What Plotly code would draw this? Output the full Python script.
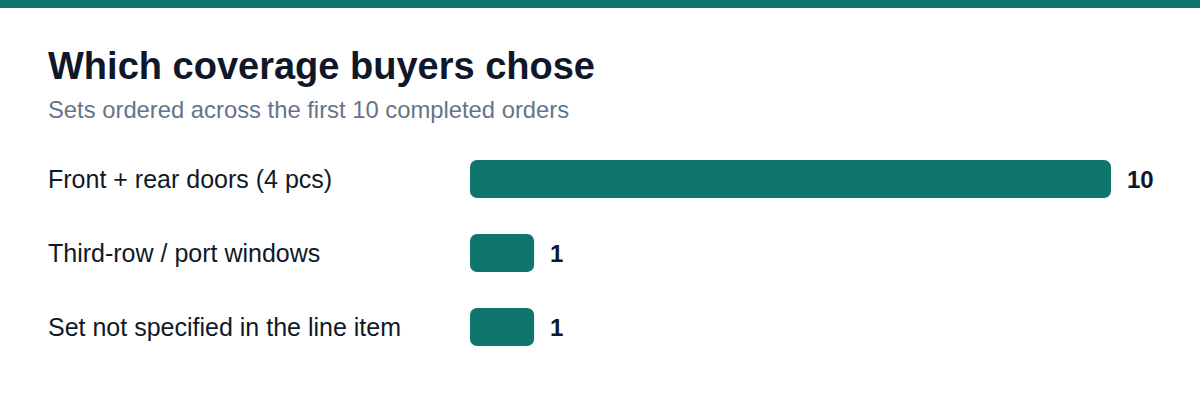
import plotly.graph_objects as go

categories = ["Front + rear doors (4 pcs)", "Third-row / port windows", "Set not specified in the line item"]
orders = [10, 1, 1]

W, H = 1200, 412
L, R, T, B = 470, 89, 142, 48
TEAL = "#0f766e"
FONT = "Liberation Sans, Arial, sans-serif"

plot_w = W - L - R
plot_h = H - T - B


def px_x(px):
    return (px - L) / plot_w


def px_y(py):
    return 1 + (T - py) / plot_h


# plotly only rounds the far end of a bar, so each bar is drawn as two halves
# growing out from its midpoint (one rounds each end) plus a square middle
# piece that hides the seam between them
half = [v / 2 for v in orders]
fig = go.Figure()
for sign in (1, -1):
    fig.add_trace(go.Bar(
        x=[sign * h for h in half], base=half, y=categories, orientation="h",
        marker=dict(color=TEAL, cornerradius=7, line=dict(width=0)),
        hoverinfo="skip"))
fig.add_trace(go.Bar(
    x=half, base=[v / 4 for v in orders], y=categories, orientation="h",
    marker=dict(color=TEAL, cornerradius=0, line=dict(width=0)),
    hoverinfo="skip"))

ann = [
    dict(text="<b>Which coverage buyers chose</b>", x=px_x(46), y=px_y(66),
         font=dict(size=38, color="#0f172a")),
    dict(text="Sets ordered across the first 10 completed orders", x=px_x(46), y=px_y(110),
         font=dict(size=23.8, color="#64748b")),
]
for c in categories:
    ann.append(dict(text=c, x=px_x(46), y=c, yref="y", font=dict(size=25, color="#111827")))
for c, v in zip(categories, orders):
    ann.append(dict(text=f"<b>{v}</b>", x=v, xref="x", y=c, yref="y", xshift=14,
                    font=dict(size=24, color="#0f172a")))
for a in ann:
    a.setdefault("xref", "paper")
    a.setdefault("yref", "paper")
    a.update(xanchor="left", yanchor="middle", showarrow=False)

fig.update_layout(
    width=W, height=H,
    margin=dict(l=L, r=R, t=T, b=B),
    paper_bgcolor="white", plot_bgcolor="white",
    font=dict(family=FONT),
    barmode="overlay",
    bargap=0.486,
    showlegend=False,
    xaxis=dict(range=[0, 10], visible=False, fixedrange=True),
    yaxis=dict(categoryorder="array", categoryarray=categories, autorange="reversed",
               visible=False, fixedrange=True),
    annotations=ann,
    shapes=[dict(type="rect", xref="paper", yref="paper", x0=px_x(0), x1=px_x(W),
                 y0=px_y(8), y1=px_y(0), fillcolor=TEAL, line=dict(width=0), layer="above")],
)

fig.write_html("out.html", config={"displayModeBar": False},
               post_script="document.body.style.margin='0';")
